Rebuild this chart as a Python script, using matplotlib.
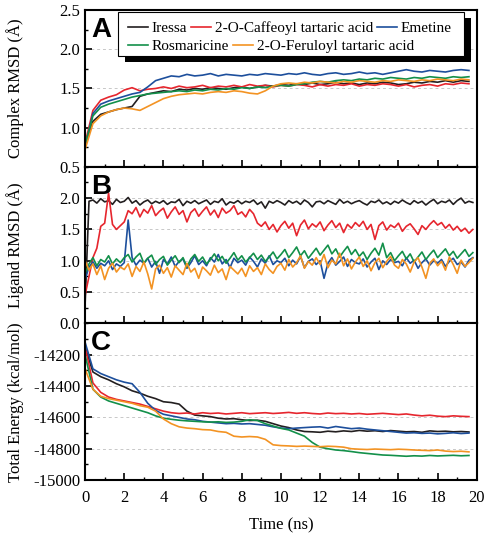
import matplotlib
matplotlib.use('Agg')
import matplotlib.pyplot as plt
import matplotlib.patheffects as pe
from matplotlib.patches import Rectangle
from matplotlib.ticker import MultipleLocator
import numpy as np

plt.rcParams['font.family'] = 'Liberation Serif'
plt.rcParams['axes.unicode_minus'] = False

names = ['Iressa', '2-O-Caffeoyl tartaric acid', 'Emetine', 'Rosmaricine', '2-O-Feruloyl tartaric acid']
colors = ['#231f20', '#e6262e', '#1d4f9c', '#13904a', '#f39323']

# sample times (ns): panels A and C read every 0.4 ns, panel B every 0.2 ns
time_ac = np.arange(50) * 0.4
time_b = np.arange(100) * 0.2

# panel A - complex RMSD (A)
complex_iressa = [0.78, 1.08, 1.17, 1.20, 1.23, 1.25, 1.27, 1.40, 1.43, 1.45,
                  1.47, 1.46, 1.49, 1.48, 1.50, 1.49, 1.51, 1.50, 1.49, 1.51,
                  1.52, 1.50, 1.52, 1.54, 1.53, 1.55, 1.54, 1.56, 1.55, 1.57,
                  1.55, 1.56, 1.58, 1.56, 1.57, 1.55, 1.57, 1.56, 1.58, 1.57,
                  1.55, 1.56, 1.58, 1.57, 1.59, 1.58, 1.60, 1.58, 1.60, 1.59]
complex_caffeoyl = [0.80, 1.22, 1.35, 1.39, 1.42, 1.48, 1.51, 1.47, 1.49, 1.50,
                    1.52, 1.50, 1.53, 1.51, 1.52, 1.54, 1.51, 1.53, 1.52, 1.54,
                    1.52, 1.55, 1.53, 1.54, 1.52, 1.54, 1.53, 1.55, 1.54, 1.52,
                    1.55, 1.53, 1.55, 1.54, 1.56, 1.53, 1.55, 1.54, 1.56, 1.55,
                    1.53, 1.55, 1.52, 1.54, 1.55, 1.53, 1.56, 1.55, 1.57, 1.56]
complex_emetine = [0.75, 1.18, 1.30, 1.34, 1.37, 1.40, 1.43, 1.45, 1.52, 1.60,
                   1.63, 1.66, 1.65, 1.68, 1.66, 1.67, 1.69, 1.66, 1.68, 1.67,
                   1.66, 1.68, 1.67, 1.69, 1.68, 1.67, 1.69, 1.68, 1.70, 1.68,
                   1.67, 1.69, 1.70, 1.68, 1.69, 1.71, 1.69, 1.70, 1.68, 1.70,
                   1.72, 1.74, 1.72, 1.71, 1.73, 1.72, 1.71, 1.73, 1.74, 1.73]
complex_rosmaricine = [0.78, 1.15, 1.26, 1.30, 1.33, 1.36, 1.39, 1.41, 1.43, 1.44,
                       1.45, 1.46, 1.47, 1.46, 1.48, 1.47, 1.49, 1.48, 1.50, 1.49,
                       1.51, 1.50, 1.52, 1.51, 1.53, 1.54, 1.53, 1.55, 1.56, 1.58,
                       1.59, 1.58, 1.60, 1.61, 1.60, 1.62, 1.61, 1.63, 1.62, 1.64,
                       1.63, 1.62, 1.64, 1.63, 1.65, 1.64, 1.63, 1.65, 1.64, 1.65]
complex_feruloyl = [0.72, 1.05, 1.15, 1.20, 1.23, 1.25, 1.24, 1.22, 1.27, 1.32,
                    1.37, 1.40, 1.42, 1.43, 1.44, 1.43, 1.45, 1.46, 1.45, 1.47,
                    1.46, 1.44, 1.43, 1.47, 1.53, 1.56, 1.57, 1.56, 1.58, 1.57,
                    1.59, 1.58, 1.57, 1.59, 1.58, 1.60, 1.59, 1.58, 1.60, 1.59,
                    1.61, 1.60, 1.59, 1.61, 1.60, 1.62, 1.61, 1.60, 1.62, 1.61]

# panel B - ligand RMSD (A)
ligand_iressa = [0.30, 1.95, 1.97, 1.92, 1.99, 1.94, 1.96, 1.90, 1.98, 1.93,
                 1.95, 2.01, 1.92, 1.96, 1.89, 1.94, 1.97, 1.91, 1.95, 1.92,
                 1.96, 1.90, 1.94, 1.93, 1.98, 1.88, 1.95, 1.92, 1.96, 1.91,
                 1.94, 1.97, 1.90, 1.95, 1.93, 1.99, 1.89, 1.94, 1.92, 1.96,
                 1.91, 1.95, 1.93, 1.97, 1.90, 1.94, 1.84, 1.95, 1.92, 1.96,
                 1.93, 1.89, 1.96, 1.92, 1.95, 1.90, 1.97, 1.93, 1.86, 1.94,
                 1.95, 1.91, 1.96, 1.93, 1.90, 1.98, 1.92, 1.95, 1.91, 1.94,
                 1.96, 1.92, 1.89, 1.95, 1.93, 1.97, 1.91, 1.94, 1.90, 1.95,
                 1.92, 1.97, 1.93, 1.90, 1.96, 1.92, 1.95, 1.89, 1.94, 1.98,
                 1.91, 1.95, 1.93, 1.97, 1.90, 1.96, 2.00, 1.92, 1.95, 1.93]
ligand_caffeoyl = [0.45, 0.75, 1.05, 1.20, 1.55, 1.60, 2.08, 1.58, 1.50, 1.56,
                   1.62, 1.80, 1.75, 1.85, 1.70, 1.82, 1.76, 1.88, 1.72, 1.79,
                   1.84, 1.68, 1.78, 1.86, 1.74, 1.80, 1.62, 1.77, 1.83, 1.71,
                   1.79, 1.86, 1.73, 1.81, 1.69, 1.84, 1.76, 1.80, 1.88, 1.74,
                   1.78, 1.70, 1.82, 1.75, 1.60, 1.55, 1.62, 1.50, 1.58, 1.46,
                   1.56, 1.63, 1.52, 1.60, 1.40, 1.57, 1.65, 1.51, 1.59, 1.54,
                   1.62, 1.48, 1.57, 1.64, 1.53, 1.60, 1.45, 1.58, 1.52, 1.61,
                   1.55, 1.63, 1.50, 1.58, 1.34, 1.56, 1.62, 1.49, 1.57, 1.53,
                   1.60, 1.47, 1.55, 1.59, 1.51, 1.42, 1.56, 1.50, 1.58, 1.64,
                   1.57, 1.61, 1.52, 1.58, 1.49, 1.55, 1.47, 1.52, 1.44, 1.50]
ligand_emetine = [0.70, 0.90, 0.98, 0.88, 0.96, 0.92, 1.00, 0.86, 0.95, 0.91,
                  0.97, 1.65, 1.05, 0.93, 1.01, 0.96, 1.04, 0.90, 0.99, 0.80,
                  1.02, 0.95, 1.06, 0.91, 0.99, 1.03, 0.88, 0.97, 1.08, 0.94,
                  1.00, 0.92, 1.05, 0.98, 1.10, 0.95, 1.02, 0.89, 1.04, 0.97,
                  1.01, 0.93, 1.06, 0.99, 0.90, 1.03, 0.96, 1.08, 0.94, 1.00,
                  0.97, 1.04, 0.92, 1.01, 0.95, 1.07, 0.89, 0.99, 1.03, 0.94,
                  1.00, 0.72, 0.96, 1.05, 0.93, 0.99, 1.06, 0.91, 1.02, 0.97,
                  0.95, 1.03, 0.90, 0.98, 1.04, 0.86, 1.00, 0.94, 1.02, 0.97,
                  0.99, 0.92, 1.05, 0.96, 1.01, 0.88, 0.97, 1.03, 0.93, 1.00,
                  0.96, 1.02, 0.91, 0.99, 1.04, 0.94, 0.98, 0.90, 1.01, 1.05]
ligand_rosmaricine = [0.80, 0.95, 1.05, 0.92, 1.02, 0.98, 1.08, 0.95, 1.03, 0.97,
                      1.05, 1.10, 0.98, 1.06, 1.12, 0.96, 1.04, 1.09, 0.94, 1.02,
                      1.07, 0.93, 1.01, 1.08, 0.97, 1.05, 0.90, 1.03, 1.10, 0.99,
                      1.06, 0.95, 1.02, 1.11, 1.00, 1.07, 0.96, 1.04, 1.13, 1.01,
                      1.08, 0.98, 1.05, 1.12, 1.02, 1.09, 0.99, 1.06, 1.14, 1.03,
                      1.10, 1.18, 1.05, 1.13, 1.22, 1.08, 1.16, 1.04, 1.12, 1.20,
                      1.09, 1.17, 1.25, 1.11, 1.19, 1.06, 1.15, 1.23, 1.10, 1.18,
                      1.07, 1.14, 1.02, 1.12, 1.20, 1.09, 1.28, 1.05, 1.13, 1.00,
                      1.08, 1.15, 1.03, 1.11, 0.98, 1.06, 1.14, 1.02, 1.10, 1.17,
                      1.05, 1.12, 1.19, 1.08, 1.15, 1.04, 1.11, 1.18, 1.07, 1.13]
ligand_feruloyl = [1.00, 0.85, 0.95, 0.78, 0.92, 0.70, 0.88, 0.96, 0.82, 0.90,
                   0.86, 0.95, 0.75, 0.91, 0.83, 0.98, 0.79, 0.55, 0.87, 0.93,
                   0.80, 0.89, 0.74, 0.92, 0.85, 0.78, 0.96, 0.82, 0.88, 0.72,
                   0.90, 0.84, 0.77, 0.93, 0.81, 0.87, 0.70, 0.91, 0.85, 0.79,
                   0.88, 0.75, 0.92, 0.83, 0.89, 0.78, 0.95, 0.86, 0.80, 0.91,
                   0.96, 0.85, 1.02, 0.90, 0.97, 1.08, 0.88, 0.99, 0.93, 1.05,
                   0.94, 1.10, 0.89, 1.01, 0.95, 1.12, 0.92, 1.03, 0.87, 0.98,
                   1.06, 0.91, 1.00, 0.84, 0.97, 1.04, 0.89, 0.99, 1.07, 0.93,
                   0.88, 1.02, 0.95, 0.82, 0.98, 1.05, 0.90, 0.72, 0.96, 1.03,
                   0.92, 0.99, 0.85, 1.06, 0.94, 0.80, 1.01, 0.91, 0.97, 1.04]

# panel C - total energy (kcal/mol)
energy_iressa = [-14150, -14310, -14340, -14360, -14385, -14405, -14430, -14445, -14465, -14480,
                 -14500, -14505, -14515, -14560, -14585, -14590, -14595, -14605, -14610, -14608,
                 -14615, -14620, -14618, -14625, -14640, -14655, -14665, -14680, -14690, -14692,
                 -14695, -14688, -14692, -14686, -14690, -14683, -14688, -14685, -14690, -14684,
                 -14688, -14692, -14690, -14695, -14686, -14690, -14688, -14692, -14690, -14693]
energy_caffeoyl = [-14150, -14380, -14440, -14470, -14485, -14495, -14505, -14515, -14530, -14545,
                   -14560, -14570, -14575, -14572, -14578, -14570, -14575, -14572, -14578, -14574,
                   -14570, -14576, -14573, -14570, -14575, -14572, -14568, -14574, -14570, -14575,
                   -14578, -14572, -14576, -14574, -14578, -14575, -14580, -14577, -14574, -14578,
                   -14582, -14578, -14585, -14590, -14586, -14592, -14595, -14590, -14593, -14595]
energy_emetine = [-14120, -14290, -14320, -14340, -14360, -14375, -14385, -14440, -14510, -14555,
                  -14580, -14590, -14600, -14610, -14615, -14625, -14630, -14635, -14640, -14638,
                  -14642, -14640, -14645, -14650, -14660, -14668, -14672, -14668, -14665, -14662,
                  -14660, -14668, -14658, -14665, -14672, -14668, -14675, -14680, -14685, -14690,
                  -14695, -14700, -14698, -14702, -14700, -14705, -14702, -14698, -14703, -14700]
energy_rosmaricine = [-14200, -14420, -14470, -14495, -14510, -14525, -14540, -14555, -14570, -14590,
                      -14605, -14612, -14618, -14622, -14625, -14628, -14630, -14628, -14632, -14630,
                      -14625, -14615, -14620, -14640, -14655, -14670, -14680, -14700, -14720, -14760,
                      -14790, -14800, -14808, -14812, -14818, -14825, -14830, -14835, -14840, -14842,
                      -14845, -14848, -14845, -14847, -14843, -14846, -14844, -14842, -14845, -14843]
energy_feruloyl = [-14290, -14420, -14465, -14480, -14490, -14500, -14510, -14525, -14535, -14560,
                   -14610, -14640, -14660, -14668, -14672, -14678, -14680, -14690, -14695, -14720,
                   -14725, -14722, -14725, -14740, -14775, -14780, -14782, -14785, -14783, -14785,
                   -14787, -14784, -14786, -14790, -14800, -14803, -14805, -14802, -14804, -14806,
                   -14803, -14805, -14808, -14810, -14812, -14808, -14815, -14818, -14816, -14820]

complex_series = [complex_iressa, complex_caffeoyl, complex_emetine, complex_rosmaricine, complex_feruloyl]
ligand_series = [ligand_iressa, ligand_caffeoyl, ligand_emetine, ligand_rosmaricine, ligand_feruloyl]
energy_series = [energy_iressa, energy_caffeoyl, energy_emetine, energy_rosmaricine, energy_feruloyl]

fig, axes = plt.subplots(3, 1, sharex=True, figsize=(4.89, 5.34), dpi=100)
fig.subplots_adjust(left=0.174, right=0.975, bottom=0.101, top=0.981, hspace=0)
ax_a, ax_b, ax_c = axes

handles = []
for vals, c in zip(complex_series, colors):
	ln, = ax_a.plot(time_ac, vals, color=c, lw=1.2)
	handles.append(ln)
for vals, c in zip(ligand_series, colors):
	ax_b.plot(time_b, vals, color=c, lw=1.2)
for vals, c in zip(energy_series, colors):
	ax_c.plot(time_ac, vals, color=c, lw=1.2)

# y scales
ax_a.set_ylim(0.5, 2.5)
ax_a.yaxis.set_major_locator(MultipleLocator(0.5))
ax_a.yaxis.set_minor_locator(MultipleLocator(0.25))
ax_b.set_ylim(0, 2.5)
ax_b.set_yticks([0, 0.5, 1.0, 1.5, 2.0])
ax_b.yaxis.set_minor_locator(MultipleLocator(0.25))
ax_c.set_ylim(-15000, -14000)
ax_c.set_yticks([-15000, -14800, -14600, -14400, -14200])
ax_c.yaxis.set_minor_locator(MultipleLocator(100))

ax_c.set_xlim(0, 20)
ax_c.xaxis.set_major_locator(MultipleLocator(2))
ax_c.xaxis.set_minor_locator(MultipleLocator(1))

ylabels = ['Complex RMSD (\u00c5)', 'Ligand RMSD (\u00c5)', 'Total Energy (kcal/mol)']
letters = ['A', 'B', 'C']
for ax, lab, let in zip(axes, ylabels, letters):
	ax.yaxis.grid(True, linestyle=(0, (3, 3)), color='#c8c8c8', lw=0.7)
	ax.set_axisbelow(True)
	ax.tick_params(which='both', direction='in', top=False, right=False, labelsize=12)
	ax.tick_params(which='major', length=5, width=1.2)
	ax.tick_params(which='minor', length=2.5, width=1.0)
	ax.tick_params(axis='x', pad=7)
	for sp in ax.spines.values():
		sp.set_linewidth(1.5)
	ax.set_ylabel(lab, fontsize=12)
	ax.yaxis.set_label_coords(-0.155, 0.5)
	ax.text(0.015, 0.955, let, transform=ax.transAxes, fontsize=20, fontweight='bold',
			family='Liberation Sans', ha='left', va='top', zorder=6)

ax_c.set_xlabel('Time (ns)', fontsize=12, labelpad=8)

# legend: two rows drawn as two frameless legends on one shadowed box
frame = Rectangle((0.084, 0.707), 0.883, 0.28, transform=ax_a.transAxes,
				  facecolor='white', edgecolor='black', lw=0.8, zorder=3,
				  path_effects=[pe.SimplePatchShadow(offset=(5, -4), shadow_rgbFace='black', alpha=1),
								pe.Normal()])
ax_a.add_patch(frame)
leg_kw = dict(loc='center left', frameon=False, borderpad=0, borderaxespad=0,
			  handlelength=1.3, handletextpad=0.25, columnspacing=0.25, fontsize=11)
leg1 = ax_a.legend(handles[0:3], names[0:3], ncol=3, bbox_to_anchor=(0.11, 0.885), **leg_kw)
ax_a.add_artist(leg1)
ax_a.legend(handles[3:5], names[3:5], ncol=2, bbox_to_anchor=(0.11, 0.77), **leg_kw)

plt.savefig('out.png', dpi=100)
